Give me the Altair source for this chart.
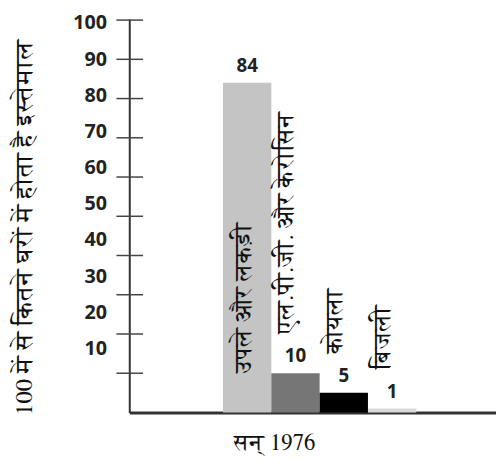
import altair as alt
import pandas as pd

categories = ["उपले और लकड़ी", "एल.पी.जी. और केरोसिन", "कोयला", "बिजली"]
values = [84, 10, 5, 1]
colors = ["#c4c4c4", "#767676", "#000000", "#d9d9d9"]
y_ticks = [10, 20, 30, 40, 50, 60, 70, 80, 90, 100]
y_title = "100 में से कितने घरों में होता है इस्तेमाल"
x_title = "सन् 1976"

df = pd.DataFrame({"cat": categories, "value": values, "idx": list(range(len(categories)))})
ticks_df = pd.DataFrame({"tick": y_ticks})

deva = "FreeSerif, Noto Serif Devanagari, Lohit Devanagari, Noto Sans Devanagari, serif"
num_font = "Open Sans"

xscale = alt.Scale(domain=[-1.94, 5.65], nice=False, zero=False)
yscale = alt.Scale(domain=[0, 100.25], nice=False, zero=True)

xaxis = alt.Axis(domain=True, domainColor="#333333", domainWidth=3, ticks=False, labels=False,
                 grid=False, title=x_title, titleFont=deva, titleFontSize=23, titleFontWeight="normal",
                 titleColor="#111111", titleX=147, titleY=31, titleAlign="center", titleBaseline="middle")
yaxis = alt.Axis(domain=True, domainColor="#333333", domainWidth=2, ticks=False, labels=False,
                 grid=False, title=y_title, titleFont=deva, titleFontSize=25, titleFontWeight="normal",
                 titleColor="#111111", titleAngle=270, titleX=-107, titleY=211, titleAlign="center",
                 titleBaseline="middle")

base = alt.Chart(df).transform_calculate(idx_end="datum.idx + 1", mid="datum.idx + 0.5",
                                         lx="datum.value > 50 ? datum.idx + 0.43 : datum.idx + 0.31",
                                         ly="datum.value > 50 ? 0 : datum.value")

bars = base.mark_bar().encode(
    x=alt.X("idx:Q", scale=xscale, axis=xaxis),
    x2="idx_end:Q",
    y=alt.Y("value:Q", scale=yscale, axis=yaxis),
    y2=alt.datum(0),
    color=alt.Color("cat:N", scale=alt.Scale(domain=categories, range=colors), legend=None),
)

vals = base.mark_text(font=num_font, fontWeight="bold", fontSize=19, baseline="bottom",
                      align="center", dy=-7, color="#222222").encode(
    x=alt.X("mid:Q", scale=xscale, axis=xaxis),
    y=alt.Y("value:Q", scale=yscale, axis=yaxis),
    text="value:Q",
)

cats = base.mark_text(font=deva, fontSize=24, angle=270, align="left", baseline="middle",
                      dx=40, color="#111111").encode(
    x=alt.X("lx:Q", scale=xscale, axis=xaxis),
    y=alt.Y("ly:Q", scale=yscale, axis=yaxis),
    text="cat:N",
)

tick_rules = alt.Chart(ticks_df).mark_rule(color="#444444", strokeWidth=1.5).encode(
    y=alt.Y("tick:Q", scale=yscale, axis=yaxis),
    x=alt.value(-13),
    x2=alt.value(14),
)

main = alt.layer(bars, vals, cats, tick_rules)

label_layer = alt.Chart(ticks_df).mark_point(opacity=0).encode(
    y=alt.Y("tick:Q", scale=alt.Scale(domain=[-7.7, 101.1], nice=False, zero=False),
            axis=alt.Axis(orient="left", values=y_ticks, domain=False, ticks=False, grid=False,
                          labelPadding=23, labelFont=num_font, labelFontWeight="bold",
                          labelFontSize=20, labelColor="#222222", title=None)),
)

chart = alt.layer(main, label_layer).resolve_scale(y="independent").properties(
    width=372, height=399, autosize=alt.AutoSizeParams(type="none"),
    padding={"left": 123, "top": 8, "right": 0, "bottom": 48},
).configure_view(stroke=None)

chart.save("out.html", embed_options={"renderer": "svg", "actions": False})
